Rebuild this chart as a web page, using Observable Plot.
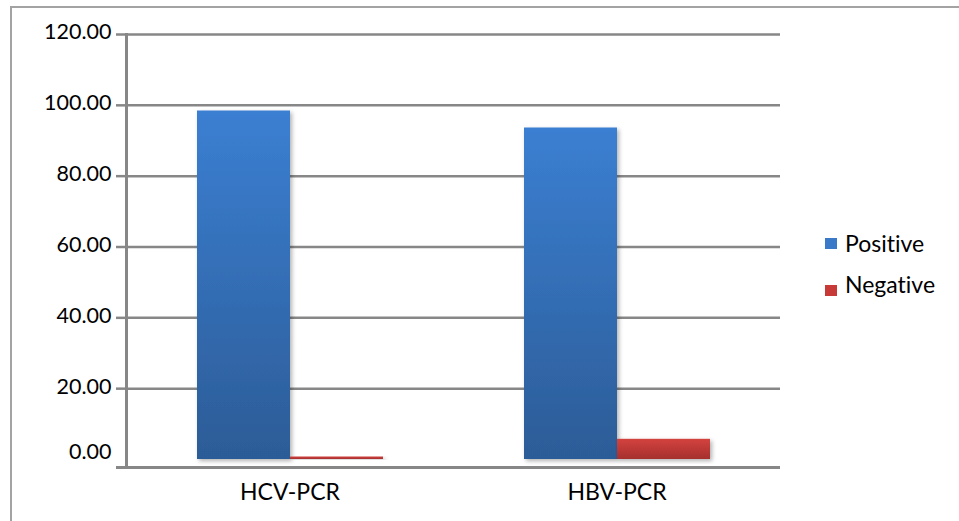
<!DOCTYPE html>
<html>
<head>
<meta charset="utf-8">
<script src="https://cdn.jsdelivr.net/npm/d3@7"></script>
<script src="https://cdn.jsdelivr.net/npm/@observablehq/plot@0.6"></script>
<style>
  html, body { margin: 0; padding: 0; background: #fff; }
  body { width: 959px; height: 521px; position: relative; overflow: hidden; font-family: Lato, "Open Sans", sans-serif; font-variant-ligatures: none; }
  #border { position: absolute; left: 10px; top: 6px; right: -5px; bottom: -5px; border-top: 2px solid #a3a3a3; border-left: 2px solid #a3a3a3; }
  #chart { position: absolute; left: 0; top: 0; }
  .legend { position: absolute; left: 825px; top: 0; font-size: 23px; color: #000; line-height: 1; }
  .legend .item { position: absolute; left: 0; white-space: nowrap; }
  .legend .sw { position: absolute; left: 0; width: 12px; height: 11px; }
  .legend .lbl { position: absolute; left: 20px; top: 0; }
</style>
</head>
<body>
<div id="border"></div>
<div id="chart"></div>
<div class="legend" id="legend"></div>
<script>
const categories = ["HCV-PCR", "HBV-PCR"];
const series = ["Positive", "Negative"];
const positive = [98.4, 93.6];
const negative = [0.7, 5.7];
const yTicks = [0, 20, 40, 60, 80, 100, 120];
const seriesFill = ["url(#gradBlue)", "url(#gradRed)"];
const legendSwatch = ["#3a78c8", "#c83a38"];

const data = categories.flatMap((c, i) => [
  {category: c, series: series[0], value: positive[i]},
  {category: c, series: series[1], value: negative[i]}
]);

const gridColor = "#878787";
const upper = yTicks.filter(d => d > 0);
const fmt = d => d.toFixed(2);

const plot = Plot.plot({
  width: 959,
  height: 521,
  marginLeft: 126,
  marginRight: 179,
  marginTop: 34,
  marginBottom: 62,
  style: {fontFamily: "Lato, 'Open Sans', sans-serif", fontSize: "21.5px", color: "#000", background: "transparent", overflow: "visible", fontVariantLigatures: "none"},
  fx: {domain: categories, padding: 0, label: null},
  x: {domain: series, paddingInner: 0, paddingOuter: 0.74, axis: null},
  y: {domain: [0, 120], axis: null, label: null},
  color: {domain: series, range: seriesFill},
  marks: [
    Plot.ruleY(upper, {stroke: gridColor, strokeWidth: 2.5}),
    Plot.ruleY([0], {stroke: gridColor, strokeWidth: 3, dy: 8}),
    Plot.frame({anchor: "left", stroke: gridColor, strokeWidth: 3, insetBottom: -8, facet: "super"}),
    Plot.axisY(upper, {tickSize: 10, tickFormat: () => "", label: null, stroke: gridColor, strokeWidth: 2.5}),
    Plot.axisY([0], {tickSize: 10, tickFormat: () => "", label: null, stroke: gridColor, strokeWidth: 3, dy: 8}),
    Plot.axisY(upper, {tickSize: 0, tickPadding: 15, tickFormat: fmt, label: null, dy: -2, fontSize: 21.5}),
    Plot.axisY([0], {tickSize: 0, tickPadding: 15, tickFormat: fmt, label: null, dy: -7, fontSize: 21.5}),
    Plot.barY(data, {fx: "category", x: "series", y: "value", fill: "series"}),
    Plot.axisFx({anchor: "bottom", tickSize: 0, tickPadding: 24, label: null, fontSize: 23})
  ]
});

const svg = d3.select(plot);
const defs = svg.insert("defs", ":first-child");
defs.html(`
  <linearGradient id="gradBlue" x1="0" y1="0" x2="0" y2="1">
    <stop offset="0" stop-color="#3b7fd2"/>
    <stop offset="1" stop-color="#2c5c97"/>
  </linearGradient>
  <linearGradient id="gradRed" x1="0" y1="0" x2="0" y2="1">
    <stop offset="0" stop-color="#d3433f"/>
    <stop offset="1" stop-color="#a52f2d"/>
  </linearGradient>
  <filter id="shadow" x="-10%" y="-10%" width="130%" height="130%">
    <feDropShadow dx="2" dy="2" stdDeviation="2" flood-color="#000" flood-opacity="0.3"/>
  </filter>
`);
svg.selectAll("g[aria-label='bar'] rect").attr("filter", "url(#shadow)");

document.getElementById("chart").appendChild(plot);

const legend = document.getElementById("legend");
const legendTops = [232, 273];
series.forEach((s, i) => {
  const item = document.createElement("div");
  item.className = "item";
  item.style.top = legendTops[i] + "px";
  item.innerHTML = `<span class="sw" style="top:${i === 0 ? 6 : 12}px;background:${legendSwatch[i]}"></span><span class="lbl">${s}</span>`;
  legend.appendChild(item);
});
</script>
</body>
</html>
